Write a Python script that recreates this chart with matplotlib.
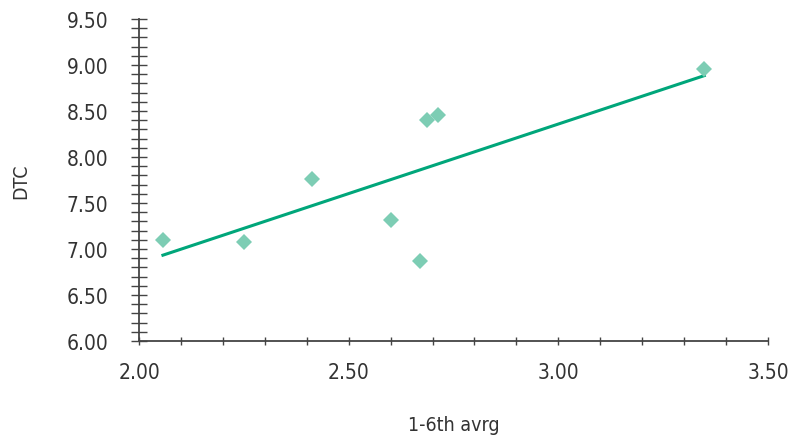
import numpy as np
import matplotlib
matplotlib.use("Agg")
import matplotlib.pyplot as plt
from matplotlib.ticker import MultipleLocator, FormatStrFormatter

# values
avg_1_6 = [2.057, 2.251, 2.412, 2.601, 2.669, 2.687, 2.713, 3.348]
dtc = [7.10, 7.076, 7.76, 7.31, 6.87, 8.40, 8.46, 8.96]

plt.rcParams['font.family'] = ['DejaVu Sans']
plt.rcParams['font.stretch'] = 'condensed'

fig = plt.figure(figsize=(7.89, 4.39), dpi=100)
ax = fig.add_axes([0.1762, 0.221, 0.7972, 0.7334])

ax.plot(avg_1_6, dtc, linestyle='none', marker='D', markersize=8.6,
        color='#7dcdb4', markeredgewidth=0, zorder=3)

# linear trend line over the data range
slope, icpt = np.polyfit(avg_1_6, dtc, 1)
xs = np.array([min(avg_1_6), max(avg_1_6)])
ax.plot(xs, slope * xs + icpt, color='#00a67a', linewidth=2.2, zorder=2)

ax.set_xlim(2.0, 3.5)
ax.set_ylim(6.0, 9.5)
ax.xaxis.set_major_locator(MultipleLocator(0.5))
ax.xaxis.set_minor_locator(MultipleLocator(0.1))
ax.yaxis.set_major_locator(MultipleLocator(0.5))
ax.yaxis.set_minor_locator(MultipleLocator(0.1))
ax.xaxis.set_major_formatter(FormatStrFormatter('%.2f'))
ax.yaxis.set_major_formatter(FormatStrFormatter('%.2f'))

for s in ['top', 'right']:
    ax.spines[s].set_visible(False)
for s in ['left', 'bottom']:
    ax.spines[s].set_color('#444444')
    ax.spines[s].set_linewidth(1.3)

axc = '#444444'
ax.tick_params(axis='y', which='both', direction='inout', length=12.2,
               width=1.0, color=axc, labelsize=15, labelcolor='#333333', pad=16)
ax.tick_params(axis='x', which='both', direction='inout', length=6,
               width=1.0, color=axc, labelsize=15, labelcolor='#333333', pad=12)

ax.set_xlabel('1-6th avrg', fontsize=14, color='#333333', labelpad=24)
ax.set_ylabel('DTC', fontsize=14, color='#333333', labelpad=26)

fig.savefig('out.png', dpi=100)
